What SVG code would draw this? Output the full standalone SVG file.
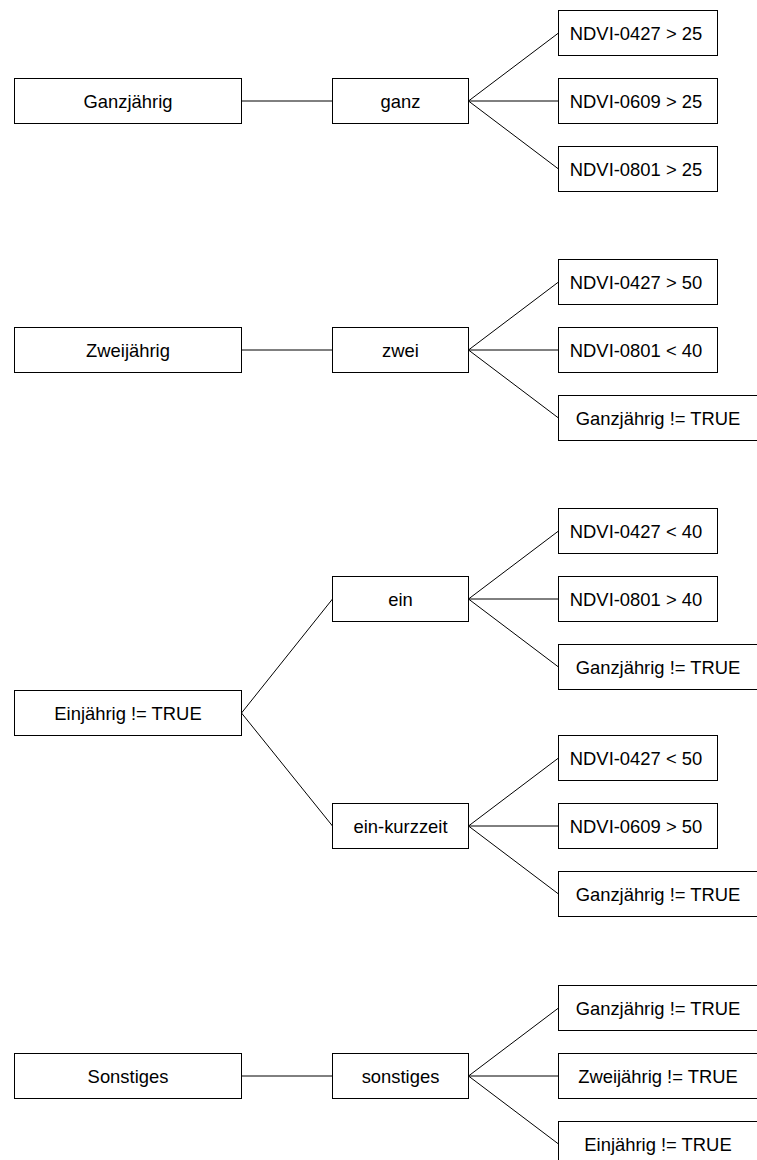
<svg xmlns="http://www.w3.org/2000/svg" width="757" height="1160" viewBox="0 0 757 1160">
<style>
rect{fill:#fff;stroke:#000;stroke-width:1}
text{font-family:"Liberation Sans",Arial,sans-serif;font-size:18.4px;fill:#000;text-anchor:middle}
#connectors line{stroke:#000;stroke-width:1}
</style>
<rect x="0" y="0" width="757" height="1160" style="stroke:none"/>
<g id="connectors">
<line x1="241.5" y1="101" x2="332.5" y2="101"/>
<line x1="468.5" y1="101" x2="558.5" y2="33"/>
<line x1="468.5" y1="101" x2="558.5" y2="101"/>
<line x1="468.5" y1="101" x2="558.5" y2="169"/>
<line x1="241.5" y1="350" x2="332.5" y2="350"/>
<line x1="468.5" y1="350" x2="558.5" y2="282"/>
<line x1="468.5" y1="350" x2="558.5" y2="350"/>
<line x1="468.5" y1="350" x2="558.5" y2="418"/>
<line x1="241.5" y1="713" x2="332.5" y2="599"/>
<line x1="241.5" y1="713" x2="332.5" y2="826"/>
<line x1="468.5" y1="599" x2="558.5" y2="531"/>
<line x1="468.5" y1="599" x2="558.5" y2="599"/>
<line x1="468.5" y1="599" x2="558.5" y2="667"/>
<line x1="468.5" y1="826" x2="558.5" y2="758"/>
<line x1="468.5" y1="826" x2="558.5" y2="826"/>
<line x1="468.5" y1="826" x2="558.5" y2="894"/>
<line x1="241.5" y1="1076" x2="332.5" y2="1076"/>
<line x1="468.5" y1="1076" x2="558.5" y2="1008"/>
<line x1="468.5" y1="1076" x2="558.5" y2="1076"/>
<line x1="468.5" y1="1076" x2="558.5" y2="1144"/>
</g>
<g id="ganzjaehrig"><rect x="14.5" y="78.5" width="227" height="45"/><text x="128" y="107.5">Ganzjährig</text></g>
<g id="ganz"><rect x="332.5" y="78.5" width="136" height="45"/><text x="400.5" y="107.5">ganz</text></g>
<g id="g1"><rect x="558.5" y="10.5" width="159" height="45"/><text x="636" y="39.5">NDVI-0427 &gt; 25</text></g>
<g id="g2"><rect x="558.5" y="78.5" width="159" height="45"/><text x="636" y="107.5">NDVI-0609 &gt; 25</text></g>
<g id="g3"><rect x="558.5" y="146.5" width="159" height="45"/><text x="636" y="175.5">NDVI-0801 &gt; 25</text></g>

<g id="zweijaehrig"><rect x="14.5" y="327.5" width="227" height="45"/><text x="128" y="356.5">Zweijährig</text></g>
<g id="zwei"><rect x="332.5" y="327.5" width="136" height="45"/><text x="400.5" y="356.5">zwei</text></g>
<g id="z1"><rect x="558.5" y="259.5" width="159" height="45"/><text x="636" y="288.5">NDVI-0427 &gt; 50</text></g>
<g id="z2"><rect x="558.5" y="327.5" width="159" height="45"/><text x="636" y="356.5">NDVI-0801 &lt; 40</text></g>
<g id="z3"><rect x="558.5" y="395.5" width="200" height="45"/><text x="658" y="424.5">Ganzjährig != TRUE</text></g>

<g id="einjaehrig"><rect x="14.5" y="690.5" width="227" height="45"/><text x="128" y="719.5">Einjährig != TRUE</text></g>
<g id="ein"><rect x="332.5" y="576.5" width="136" height="45"/><text x="400.5" y="605.5">ein</text></g>
<g id="e1"><rect x="558.5" y="508.5" width="159" height="45"/><text x="636" y="537.5">NDVI-0427 &lt; 40</text></g>
<g id="e2"><rect x="558.5" y="576.5" width="159" height="45"/><text x="636" y="605.5">NDVI-0801 &gt; 40</text></g>
<g id="e3"><rect x="558.5" y="644.5" width="200" height="45"/><text x="658" y="673.5">Ganzjährig != TRUE</text></g>
<g id="einkurzzeit"><rect x="332.5" y="803.5" width="136" height="45"/><text x="400.5" y="832.5">ein-kurzzeit</text></g>
<g id="k1"><rect x="558.5" y="735.5" width="159" height="45"/><text x="636" y="764.5">NDVI-0427 &lt; 50</text></g>
<g id="k2"><rect x="558.5" y="803.5" width="159" height="45"/><text x="636" y="832.5">NDVI-0609 &gt; 50</text></g>
<g id="k3"><rect x="558.5" y="871.5" width="200" height="45"/><text x="658" y="900.5">Ganzjährig != TRUE</text></g>

<g id="sonstiges-root"><rect x="14.5" y="1053.5" width="227" height="45"/><text x="128" y="1082.5">Sonstiges</text></g>
<g id="sonstiges"><rect x="332.5" y="1053.5" width="136" height="45"/><text x="400.5" y="1082.5">sonstiges</text></g>
<g id="s1"><rect x="558.5" y="985.5" width="200" height="45"/><text x="658" y="1014.5">Ganzjährig != TRUE</text></g>
<g id="s2"><rect x="558.5" y="1053.5" width="200" height="45"/><text x="658" y="1082.5">Zweijährig != TRUE</text></g>
<g id="s3"><rect x="558.5" y="1121.5" width="200" height="45"/><text x="658" y="1150.5">Einjährig != TRUE</text></g>
</svg>
